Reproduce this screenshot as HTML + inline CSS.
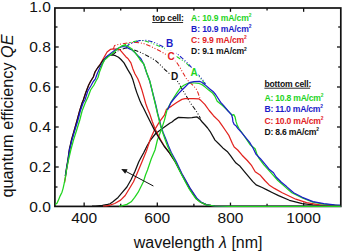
<!DOCTYPE html>
<html><head><meta charset="utf-8"><style>
html,body{margin:0;padding:0;background:#fff;width:344px;height:252px;overflow:hidden}
svg{display:block}
text{font-family:"Liberation Sans",sans-serif}
.tk{font-size:15.5px;fill:#111}
.lg{font-size:8.6px;font-weight:bold}
.le{letter-spacing:-0.12px}
.le2{letter-spacing:-0.24px}
.lab{font-size:10px;font-weight:bold}
</style></head><body>
<svg width="344" height="252" viewBox="0 0 344 252">
<rect width="344" height="252" fill="#fff"/>
<g stroke="#111" stroke-width="1.3">
<line x1="84.15" y1="206.4" x2="84.15" y2="202.6"/>
<line x1="84.15" y1="8.0" x2="84.15" y2="11.8"/>
<line x1="120.73" y1="206.4" x2="120.73" y2="203.8"/>
<line x1="120.73" y1="8.0" x2="120.73" y2="10.6"/>
<line x1="157.31" y1="206.4" x2="157.31" y2="202.6"/>
<line x1="157.31" y1="8.0" x2="157.31" y2="11.8"/>
<line x1="193.89" y1="206.4" x2="193.89" y2="203.8"/>
<line x1="193.89" y1="8.0" x2="193.89" y2="10.6"/>
<line x1="230.47" y1="206.4" x2="230.47" y2="202.6"/>
<line x1="230.47" y1="8.0" x2="230.47" y2="11.8"/>
<line x1="267.05" y1="206.4" x2="267.05" y2="203.8"/>
<line x1="267.05" y1="8.0" x2="267.05" y2="10.6"/>
<line x1="303.63" y1="206.4" x2="303.63" y2="202.6"/>
<line x1="303.63" y1="8.0" x2="303.63" y2="11.8"/>
<line x1="54.9" y1="187.00" x2="57.5" y2="187.00"/>
<line x1="340.8" y1="187.00" x2="338.2" y2="187.00"/>
<line x1="54.9" y1="167.00" x2="58.699999999999996" y2="167.00"/>
<line x1="340.8" y1="167.00" x2="337.0" y2="167.00"/>
<line x1="54.9" y1="147.00" x2="57.5" y2="147.00"/>
<line x1="340.8" y1="147.00" x2="338.2" y2="147.00"/>
<line x1="54.9" y1="127.00" x2="58.699999999999996" y2="127.00"/>
<line x1="340.8" y1="127.00" x2="337.0" y2="127.00"/>
<line x1="54.9" y1="107.00" x2="57.5" y2="107.00"/>
<line x1="340.8" y1="107.00" x2="338.2" y2="107.00"/>
<line x1="54.9" y1="87.00" x2="58.699999999999996" y2="87.00"/>
<line x1="340.8" y1="87.00" x2="337.0" y2="87.00"/>
<line x1="54.9" y1="67.00" x2="57.5" y2="67.00"/>
<line x1="340.8" y1="67.00" x2="338.2" y2="67.00"/>
<line x1="54.9" y1="47.00" x2="58.699999999999996" y2="47.00"/>
<line x1="340.8" y1="47.00" x2="337.0" y2="47.00"/>
<line x1="54.9" y1="27.00" x2="57.5" y2="27.00"/>
<line x1="340.8" y1="27.00" x2="338.2" y2="27.00"/>
</g>
<rect x="54.9" y="8.0" width="285.90000000000003" height="198.4" fill="none" stroke="#111" stroke-width="1.7"/>
<g>
<polyline points="112.5,54.8 116.0,52.0 120.0,49.8 125.0,48.3 129.0,47.8 134.2,50.1 141.2,52.7 148.1,56.2 155.1,60.2 160.4,65.0 165.2,70.0 168.2,72.5 172.0,76.0 178.0,81.8 183.1,90.8 187.0,97.2 190.8,103.6 194.6,108.7 198.1,114.1 200.5,118.5" fill="none" stroke="#111" stroke-width="1.05" stroke-linejoin="round" stroke-dasharray="4.5,1.8,1,1.8,1,1.8"/>
<polyline points="113.4,48.8 114.5,45.6 119.7,44.2 122.3,43.8 129.1,42.8 136.0,42.4 142.9,43.3 149.9,46.0 156.9,49.5 160.0,51.0 165.2,54.0 170.0,57.0 175.7,61.0 179.2,66.2 182.7,72.3 186.2,78.4 188.8,81.5 193.4,85.7 196.5,89.5 198.1,93.0 199.9,98.3" fill="none" stroke="#e2231f" stroke-width="1.05" stroke-linejoin="round" stroke-dasharray="4.5,1.8,1,1.8,1,1.8"/>
<polyline points="121.8,45.9 125.5,44.5 129.0,43.1 133.0,41.8 137.7,40.8 142.0,40.6 146.0,41.2 151.6,43.0 158.6,46.0 163.8,48.0 167.3,50.0 172.0,53.0 177.4,57.0 182.7,60.5 187.9,64.6 193.1,71.0 198.4,76.0 202.0,80.0 205.0,84.0" fill="none" stroke="#1fd41f" stroke-width="1.05" stroke-linejoin="round" stroke-dasharray="4.5,1.8,1,1.8,1,1.8"/>
<polyline points="126.0,47.0 129.0,44.5 132.4,43.1 136.0,41.8 139.4,40.6 146.4,40.3 153.4,42.0 159.5,45.0 163.8,47.0 168.0,49.0 172.0,51.5 177.4,54.0 182.7,58.6 187.9,63.4 193.1,69.2 198.4,74.9 203.6,81.0 205.5,84.0" fill="none" stroke="#1c1cc8" stroke-width="1.05" stroke-linejoin="round" stroke-dasharray="4.5,1.8,1,1.8,1,1.8"/>
<polyline points="92.0,206.2 95.5,206.1 102.4,205.3 107.7,204.4 110.0,203.8 112.9,201.8 115.0,200.0 118.1,197.4 122.5,192.2 126.9,187.0 131.0,179.8 135.0,171.3 138.7,162.0 140.5,158.5 143.8,152.5 147.0,146.0 150.5,140.0 155.7,133.5 162.7,128.3 169.7,123.2 172.0,122.0 174.9,119.6 178.4,117.4 183.6,117.7 188.0,117.9 192.0,117.6 197.1,116.9 199.9,119.2 202.2,122.0 205.0,125.0 207.6,128.0 210.0,131.3 215.0,140.1 218.5,143.5 222.8,147.9 227.2,151.4 230.7,155.8 233.5,159.8 236.0,163.1 239.5,165.7 243.8,170.9 248.2,176.2 252.6,181.4 256.1,184.9 262.2,187.5 267.4,190.1 272.6,192.7 278.6,195.6 289.4,200.3 302.3,203.7 313.0,204.8 325.0,205.6 340.0,206.0" fill="none" stroke="#111" stroke-width="1.25" stroke-linejoin="round"/>
<polyline points="103.0,206.0 106.0,205.9 109.4,205.3 114.7,203.5 120.6,200.1 125.2,195.5 129.3,188.7 133.5,181.7 137.5,172.5 141.9,162.0 146.3,151.3 150.5,138.7 154.0,130.9 159.2,122.2 164.4,115.2 166.5,109.3 171.6,106.1 176.7,102.5 181.9,99.4 185.0,98.7 193.4,98.6 199.0,98.9 201.0,100.6 204.8,104.4 209.2,110.5 213.5,115.7 218.8,120.9 222.0,125.4 225.5,130.5 229.0,135.7 232.4,143.5 234.2,147.0 237.7,150.0 242.1,155.2 247.3,160.5 251.7,165.7 255.2,171.8 260.4,175.3 264.8,180.5 269.1,184.9 274.4,188.4 282.2,192.7 288.0,195.5 295.8,199.2 306.6,202.6 319.5,204.8 334.5,205.4 340.0,205.8" fill="none" stroke="#e2231f" stroke-width="1.25" stroke-linejoin="round"/>
<polyline points="119.0,206.0 121.6,205.8 126.9,204.4 131.2,201.8 134.7,197.4 138.2,192.2 140.8,187.0 143.4,181.7 145.5,175.0 147.5,170.0 151.3,158.8 155.0,150.0 157.4,140.0 160.9,130.9 164.4,120.4 167.0,110.0 170.8,102.5 174.5,96.5 177.4,92.1 180.3,88.1 183.9,85.3 187.4,83.5 190.0,82.6 194.7,83.0 199.1,83.5 201.7,84.5 205.2,87.1 208.7,90.1 212.2,92.7 214.8,96.0 217.2,101.2 222.2,105.3 226.4,109.2 230.7,113.6 232.5,115.3 233.8,114.6 235.1,117.1 236.0,121.4 237.3,125.4 239.0,128.5 242.9,134.0 246.4,139.2 249.9,144.4 255.1,148.8 256.9,154.0 258.7,157.8 263.9,164.8 270.9,172.7 277.9,180.5 284.8,186.6 291.8,192.7 302.3,198.0 313.0,202.2 323.8,204.2 334.5,205.2 340.0,205.6" fill="none" stroke="#1fd41f" stroke-width="1.25" stroke-linejoin="round"/>
<polyline points="167.5,110.0 171.0,102.5 174.2,98.5 178.9,93.1 181.7,90.3 185.3,86.7 188.9,83.1 190.3,82.4 193.9,81.7 199.6,81.4 201.7,82.3 205.2,84.9 209.5,88.8 213.0,91.4 215.6,94.5 220.7,102.4 223.7,105.7 228.1,111.0 231.6,114.9 232.5,118.0 232.9,121.4 234.2,124.5 236.0,125.8 238.0,128.6 241.2,132.2 245.5,137.4 249.9,142.7 253.4,148.8 256.1,154.4 260.4,158.7 264.8,163.9 269.1,169.2 273.5,172.7 276.1,177.0 281.4,182.3 286.6,186.6 293.6,192.7 302.3,197.3 313.0,201.6 323.8,203.7 334.5,204.8 340.0,205.2" fill="none" stroke="#1c1cc8" stroke-width="1.25" stroke-linejoin="round"/>
<polyline points="64.5,183.0 65.6,176.0 66.8,168.0 68.3,159.0 69.6,150.0 71.5,140.0 73.8,132.0 76.9,121.0 79.6,111.0 82.1,103.0 83.3,100.0 85.8,92.5 88.7,85.0 90.8,81.0 93.3,77.0 95.0,72.0 97.5,68.0 100.0,64.5 102.4,60.3 104.5,56.5 107.1,52.0 110.3,49.4 113.4,48.8 116.6,49.2 119.7,49.6 121.3,51.4 123.4,53.8 126.0,56.9 127.9,58.5 130.9,62.9 132.9,68.9 134.9,73.8 137.8,78.8 139.8,83.7 141.8,89.7 143.8,96.6 145.7,103.5 147.5,108.5 149.6,113.4 152.2,121.3 154.8,128.3 157.4,133.5 160.5,139.5 164.0,145.5 169.2,152.5 175.6,162.0 181.6,173.5 186.5,182.2 190.4,189.2 193.9,194.4 196.8,198.8 200.9,202.3 206.5,204.9 215.0,206.0 230.0,206.3 340.5,206.3" fill="none" stroke="#e2231f" stroke-width="1.25" stroke-linejoin="round"/>
<polyline points="65.3,176.0 66.5,168.0 68.0,159.0 69.2,150.0 71.5,140.0 73.8,132.0 76.9,121.0 79.6,111.0 82.1,103.0 83.3,100.0 85.8,92.5 88.7,85.0 90.8,81.0 93.3,77.0 95.0,72.0 97.5,68.0 100.0,65.0 102.5,61.0 105.0,58.5 107.5,56.3 110.0,55.2 112.5,54.8 115.5,55.7 118.5,57.3 121.0,59.5 124.0,62.9 127.9,69.9 130.9,74.8 132.9,79.8 134.9,86.7 136.8,92.6 139.8,100.5 141.8,104.9 143.5,108.0 147.0,115.2 150.5,122.2 154.0,129.1 157.4,135.2 160.5,140.5 164.0,146.0 169.1,152.5 175.2,162.0 181.2,173.5 185.9,182.2 189.8,189.2 193.3,194.4 196.4,198.8 200.8,202.3 206.4,204.9 215.0,206.0 230.0,206.3 340.5,206.3" fill="none" stroke="#111" stroke-width="1.25" stroke-linejoin="round"/>
<polyline points="65.4,176.0 66.7,168.0 68.2,159.0 69.5,150.0 72.0,140.0 74.3,132.0 77.7,121.0 80.3,111.0 83.1,103.0 85.0,100.0 87.8,91.0 90.8,86.0 93.3,81.5 95.4,78.8 97.5,73.0 100.0,67.5 103.0,62.5 106.1,56.9 110.3,53.8 114.5,50.6 118.6,48.0 122.8,46.5 126.0,47.0 129.1,48.6 132.0,50.0 134.3,51.9 137.6,55.5 140.8,58.5 143.8,64.3 146.7,73.0 149.7,81.0 151.7,89.0 153.8,97.0 155.8,105.0 157.7,113.4 159.5,120.4 161.3,127.4 163.3,133.0 166.2,140.0 168.5,146.0 171.3,152.5 176.2,161.5 181.7,173.2 186.8,182.2 190.7,189.2 194.2,194.4 197.3,198.8 201.4,202.3 206.8,204.9 215.0,206.0 230.0,206.3 340.5,206.3" fill="none" stroke="#1c1cc8" stroke-width="1.25" stroke-linejoin="round"/>
<polyline points="55.3,204.4 57.0,203.3 58.7,199.4 60.3,195.6 62.0,192.2 63.1,188.3 64.2,183.3 65.5,177.0 66.5,170.0 68.5,160.0 70.8,150.0 73.5,140.0 76.7,130.0 79.8,120.0 82.1,111.0 85.2,103.0 88.0,97.0 90.6,90.0 94.0,85.0 96.0,81.0 98.0,77.5 99.5,72.0 101.3,67.5 103.0,63.0 104.5,60.1 106.8,58.0 109.2,55.9 114.5,51.7 118.6,48.0 121.8,45.9 124.9,45.4 128.1,46.5 131.2,48.6 134.3,51.7 137.5,55.9 139.6,59.0 141.5,61.5 143.8,64.0 146.7,72.8 149.7,80.7 151.7,88.7 153.4,96.3 155.4,104.5 157.4,113.4 159.2,120.4 160.9,127.4 162.7,132.6 165.3,140.0 167.5,146.0 170.2,152.0 175.0,161.3 181.0,173.5 185.6,182.2 189.4,189.2 192.9,194.4 196.1,198.8 200.5,202.3 206.4,204.9 215.0,206.0 230.0,206.3 340.5,206.3" fill="none" stroke="#1fd41f" stroke-width="1.25" stroke-linejoin="round"/>
</g>
<line x1="153.4" y1="186" x2="125.5" y2="171.2" stroke="#111" stroke-width="1"/>
<polygon points="121.2,169 127.6,169.2 125.2,173.7" fill="#111"/>
<g fill="#fff"><rect x="165" y="39.2" width="10" height="11.5"/><rect x="166.6" y="50.5" width="9.6" height="10.3"/><rect x="170.2" y="71.6" width="8.4" height="8.8"/><rect x="189.6" y="67.8" width="9" height="9"/></g>
<g class="lab">
<text x="166" y="47.3" fill="#1c1cc8">B</text>
<text x="167.6" y="59.9" fill="#e2231f">C</text>
<text x="171" y="79.6" fill="#111">D</text>
<text x="190.5" y="76" fill="#1fd41f">A</text>
</g>
<g class="lg">
<text x="152.2" y="20.6" fill="#111" letter-spacing="-0.15">top cell:</text>
<line x1="152.2" y1="22.5" x2="183.1" y2="22.5" stroke="#111" stroke-width="0.9"/>
<text class="le" x="191.1" y="20.7" fill="#1fd41f">A: 10.9 mA/cm<tspan font-size="4.9" dy="-3.8">2</tspan></text>
<text class="le" x="191.1" y="31.5" fill="#1c1cc8">B: 10.9 mA/cm<tspan font-size="4.9" dy="-3.8">2</tspan></text>
<text class="le" x="191.1" y="43.2" fill="#e2231f">C: 9.9 mA/cm<tspan font-size="4.9" dy="-3.8">2</tspan></text>
<text class="le" x="191.1" y="54.4" fill="#111">D: 9.1 mA/cm<tspan font-size="4.9" dy="-3.8">2</tspan></text>
<text x="264.4" y="86.6" fill="#111" letter-spacing="-0.15">bottom cell:</text>
<line x1="264.4" y1="88.2" x2="310.1" y2="88.2" stroke="#111" stroke-width="0.9"/>
<text class="le2" x="264.6" y="100.6" fill="#1fd41f">A: 10.8 mA/cm<tspan font-size="4.9" dy="-3.8">2</tspan></text>
<text class="le2" x="264.6" y="112.0" fill="#1c1cc8">B: 11.0 mA/cm<tspan font-size="4.9" dy="-3.8">2</tspan></text>
<text class="le2" x="264.6" y="123.5" fill="#e2231f">C: 10.0 mA/cm<tspan font-size="4.9" dy="-3.8">2</tspan></text>
<text class="le2" x="264.6" y="135.1" fill="#111">D: 8.6 mA/cm<tspan font-size="4.9" dy="-3.8">2</tspan></text>
</g>
<g class="tk">
<text x="50.8" y="211.8" text-anchor="end">0.0</text>
<text x="50.8" y="171.8" text-anchor="end">0.2</text>
<text x="50.8" y="131.8" text-anchor="end">0.4</text>
<text x="50.8" y="91.8" text-anchor="end">0.6</text>
<text x="50.8" y="51.8" text-anchor="end">0.8</text>
<text x="50.8" y="11.8" text-anchor="end">1.0</text>
<text x="84.2" y="223.3" text-anchor="middle">400</text>
<text x="157.3" y="223.3" text-anchor="middle">600</text>
<text x="230.5" y="223.3" text-anchor="middle">800</text>
<text x="303.6" y="223.3" text-anchor="middle">1000</text>
</g>
<text x="133.7" y="248.4" style="font-size:16px" fill="#111">wavelength <tspan font-style="italic">λ</tspan> [nm]</text>
<text transform="translate(13.4,197.6) rotate(-90)" x="0" y="0" style="font-size:16.25px" fill="#111">quantum efficiency <tspan font-style="italic">QE</tspan></text>
</svg>
</body></html>
